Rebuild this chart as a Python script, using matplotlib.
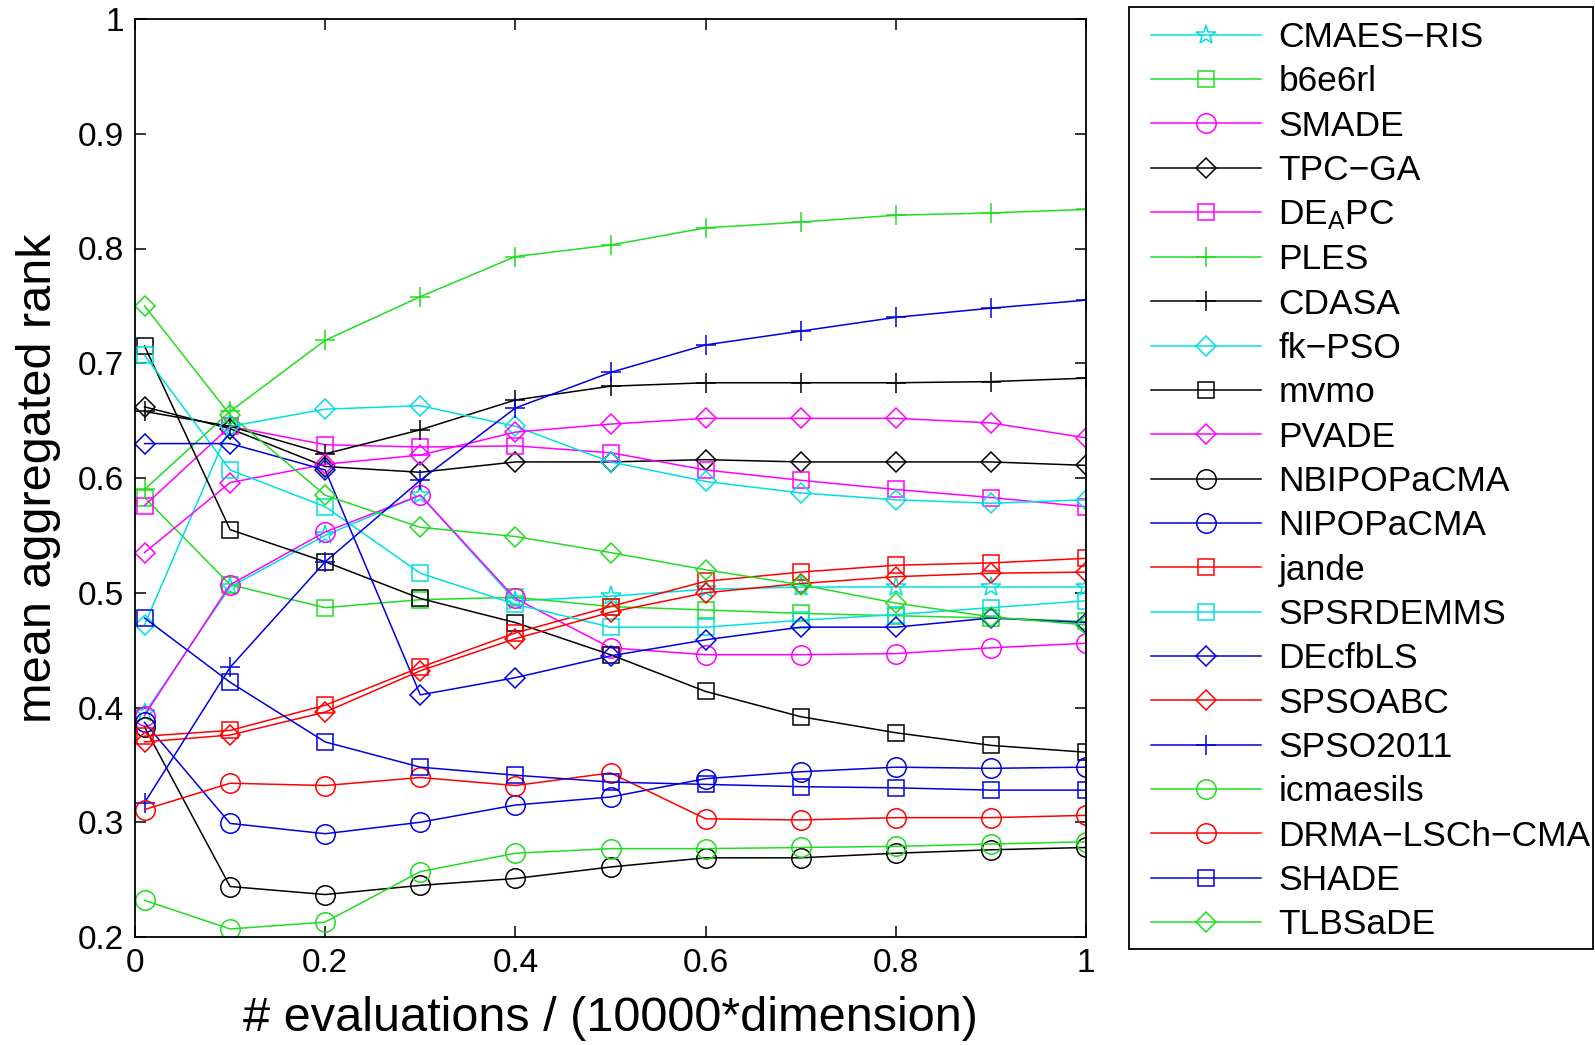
"""Mean aggregated rank of 21 optimisers over the evaluation budget."""
import matplotlib
matplotlib.use("Agg")
import matplotlib.pyplot as plt
from matplotlib.patches import Rectangle

plt.rcParams["font.family"] = ["Liberation Sans", "DejaVu Sans"]
plt.rcParams["mathtext.default"] = "regular"

budget = [0.01, 0.1, 0.2, 0.3, 0.4, 0.5, 0.6, 0.7, 0.8, 0.9, 1.0]

cmaes_ris = [0.395, 0.505, 0.550, 0.585, 0.493, 0.497, 0.503, 0.505, 0.505, 0.505, 0.505]
b6e6rl = [0.583, 0.507, 0.487, 0.494, 0.496, 0.488, 0.485, 0.482, 0.480, 0.478, 0.475]
smade = [0.393, 0.507, 0.553, 0.585, 0.495, 0.452, 0.446, 0.446, 0.447, 0.452, 0.456]
tpc_ga = [0.662, 0.643, 0.610, 0.605, 0.614, 0.614, 0.616, 0.614, 0.614, 0.614, 0.611]
de_apc = [0.576, 0.645, 0.629, 0.627, 0.628, 0.622, 0.607, 0.598, 0.590, 0.583, 0.575]
ples = [0.590, 0.658, 0.720, 0.758, 0.793, 0.803, 0.818, 0.823, 0.829, 0.831, 0.834]
cdasa = [0.658, 0.645, 0.621, 0.642, 0.668, 0.680, 0.683, 0.683, 0.683, 0.684, 0.687]
fk_pso = [0.472, 0.645, 0.660, 0.663, 0.645, 0.614, 0.597, 0.587, 0.581, 0.578, 0.581]
mvmo = [0.715, 0.555, 0.527, 0.495, 0.474, 0.446, 0.414, 0.392, 0.378, 0.367, 0.361]
pvade = [0.535, 0.596, 0.612, 0.620, 0.640, 0.647, 0.652, 0.652, 0.652, 0.648, 0.635]
nbipop = [0.383, 0.244, 0.237, 0.245, 0.251, 0.261, 0.269, 0.269, 0.273, 0.276, 0.278]
nipop = [0.387, 0.299, 0.290, 0.300, 0.315, 0.322, 0.338, 0.344, 0.348, 0.347, 0.348]
jande = [0.375, 0.380, 0.402, 0.435, 0.465, 0.488, 0.510, 0.518, 0.524, 0.526, 0.530]
spsrdemms = [0.707, 0.607, 0.575, 0.517, 0.490, 0.470, 0.470, 0.476, 0.481, 0.487, 0.493]
decfbls = [0.630, 0.630, 0.607, 0.411, 0.426, 0.445, 0.459, 0.470, 0.470, 0.478, 0.474]
spsoabc = [0.370, 0.376, 0.396, 0.432, 0.460, 0.483, 0.500, 0.508, 0.514, 0.517, 0.518]
spso2011 = [0.317, 0.435, 0.527, 0.598, 0.661, 0.692, 0.716, 0.728, 0.740, 0.748, 0.755]
icmaesils = [0.232, 0.207, 0.213, 0.257, 0.273, 0.277, 0.277, 0.278, 0.279, 0.281, 0.283]
drma = [0.311, 0.334, 0.332, 0.339, 0.332, 0.343, 0.303, 0.302, 0.304, 0.304, 0.306]
shade = [0.478, 0.422, 0.370, 0.348, 0.341, 0.335, 0.333, 0.331, 0.330, 0.328, 0.328]
tlbsade = [0.750, 0.655, 0.585, 0.557, 0.549, 0.535, 0.520, 0.507, 0.491, 0.479, 0.472]

xticks = [0, 0.2, 0.4, 0.6, 0.8, 1]
xtick_labels = ["0", "0.2", "0.4", "0.6", "0.8", "1"]
yticks = [0.2, 0.3, 0.4, 0.5, 0.6, 0.7, 0.8, 0.9, 1.0]
ytick_labels = ["0.2", "0.3", "0.4", "0.5", "0.6", "0.7", "0.8", "0.9", "1"]

C, G, M, K, B, R = "#00e0e0", "#20dd20", "#ff00ff", "#000000", "#0000e0", "#ff0000"

# (label, values, colour, marker, markersize)
series = [
    ("CMAES\u2212RIS", cmaes_ris, C, "*", 15),
    ("b6e6rl", b6e6rl, G, "s", 12),
    ("SMADE", smade, M, "o", 14),
    ("TPC\u2212GA", tpc_ga, K, "D", 10),
    ("DE$_{A}$PC", de_apc, M, "s", 12),
    ("PLES", ples, G, "+", 15),
    ("CDASA", cdasa, K, "+", 15),
    ("fk\u2212PSO", fk_pso, C, "D", 10),
    ("mvmo", mvmo, K, "s", 12),
    ("PVADE", pvade, M, "D", 10),
    ("NBIPOPaCMA", nbipop, K, "o", 14),
    ("NIPOPaCMA", nipop, B, "o", 14),
    ("jande", jande, R, "s", 12),
    ("SPSRDEMMS", spsrdemms, C, "s", 12),
    ("DEcfbLS", decfbls, B, "D", 10),
    ("SPSOABC", spsoabc, R, "D", 10),
    ("SPSO2011", spso2011, B, "+", 15),
    ("icmaesils", icmaesils, G, "o", 14),
    ("DRMA\u2212LSCh\u2212CMA", drma, R, "o", 14),
    ("SHADE", shade, B, "s", 12),
    ("TLBSaDE", tlbsade, G, "D", 10),
]

W, H = 1595, 1045
fig = plt.figure(figsize=(W / 100, H / 100), dpi=100)
ax = fig.add_axes([135 / W, 1 - 937 / H, (1086 - 135) / W, (937 - 19) / H])

for label, vals, col, mk, ms in series:
    ax.plot(budget, vals, color=col, lw=1.1, marker=mk, markersize=ms,
            markerfacecolor="none", markeredgecolor=col, markeredgewidth=1.1,
            label=label)

ax.set_xlim(0, 1)
ax.set_ylim(0.2, 1)
ax.set_xticks(xticks)
ax.set_xticklabels(xtick_labels)
ax.set_yticks(yticks)
ax.set_yticklabels(ytick_labels)
ax.tick_params(direction="in", top=True, right=True, length=8, width=1.1,
               labelsize=24, pad=8)
for sp in ax.spines.values():
    sp.set_linewidth(1.3)

ax.set_xlabel("# evaluations / (10000*dimension)", fontsize=35, labelpad=12)
ax.set_ylabel("mean aggregated rank", fontsize=35, labelpad=12)

# legend entries without their own frame, box drawn separately
handles, labels = ax.get_legend_handles_labels()
fig.legend(handles, labels, loc="upper left",
           bbox_to_anchor=(1151 / W, 1 - 21 / H),
           fontsize=25.5, frameon=False,
           handlelength=3.1, handletextpad=0.5, labelspacing=0.32,
           borderpad=0, borderaxespad=0)
fig.patches.append(Rectangle((1129 / W, 1 - 949 / H), (1593 - 1129) / W,
                             (949 - 7) / H, transform=fig.transFigure,
                             fill=False, edgecolor="black", lw=1.3))

fig.savefig("out.png", dpi=100)
